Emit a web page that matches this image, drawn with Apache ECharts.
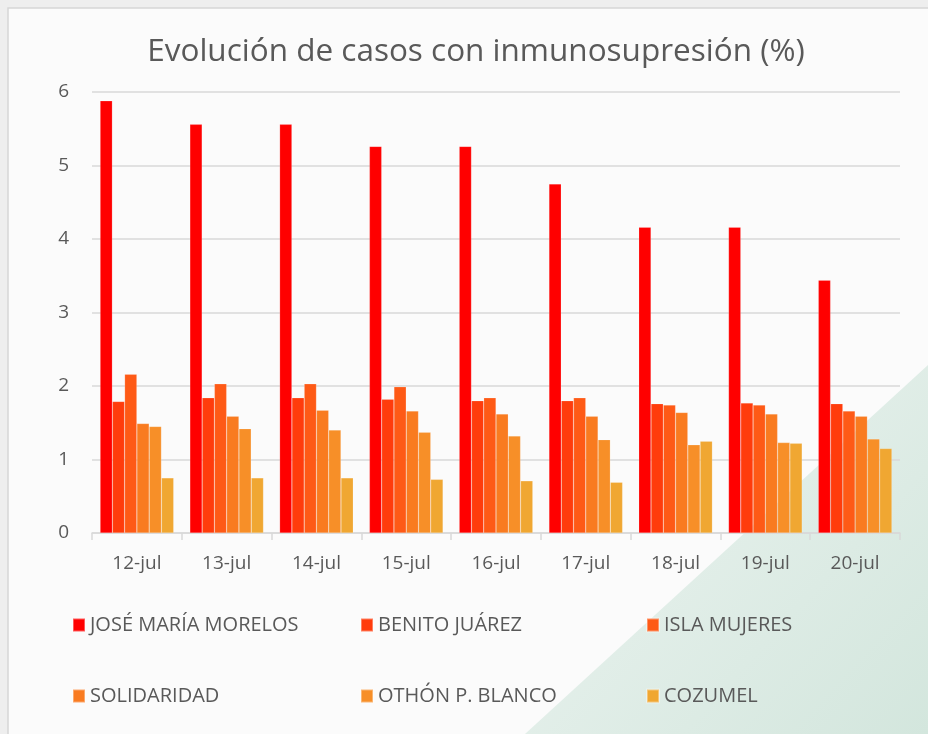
<!DOCTYPE html>
<html lang="es">
<head>
    <meta charset="UTF-8">
    <title>Evolución de casos con inmunosupresión</title>
    <script src="https://cdn.jsdelivr.net/npm/echarts@6/dist/echarts.min.js"></script>
    <style type="text/css">
        *{ padding: 0; margin: 0; border: 0; }
        #chart{ width: 928px; height: 734px; }
    </style>
</head>
<body>
<div id="chart"></div>
<script>
    // datos
    var dias = ['12-jul', '13-jul', '14-jul', '15-jul', '16-jul', '17-jul', '18-jul', '19-jul', '20-jul'];
    var municipios = ['JOSÉ MARÍA MORELOS', 'BENITO JUÁREZ', 'ISLA MUJERES', 'SOLIDARIDAD', 'OTHÓN P. BLANCO', 'COZUMEL'];
    var joseMariaMorelos = [5.88, 5.56, 5.56, 5.26, 5.26, 4.75, 4.16, 4.16, 3.44];
    var benitoJuarez     = [1.79, 1.84, 1.84, 1.82, 1.80, 1.80, 1.76, 1.77, 1.76];
    var islaMujeres      = [2.16, 2.03, 2.03, 1.99, 1.84, 1.84, 1.74, 1.74, 1.66];
    var solidaridad      = [1.49, 1.59, 1.67, 1.66, 1.62, 1.59, 1.64, 1.62, 1.59];
    var othonPBlanco     = [1.45, 1.42, 1.40, 1.37, 1.32, 1.27, 1.20, 1.23, 1.28];
    var cozumel          = [0.75, 0.75, 0.75, 0.73, 0.71, 0.69, 1.25, 1.22, 1.15];
    var yTicks = [0, 1, 2, 3, 4, 5, 6];

    var valores = [joseMariaMorelos, benitoJuarez, islaMujeres, solidaridad, othonPBlanco, cozumel];
    var colores = ['#ff0000', '#ff3c0c', '#fe5a16', '#f97b20', '#f78f28', '#f0a732'];
    var fuente = 'Open Sans, sans-serif';

    var series = municipios.map(function (n, i) {
        return {
            name: n,
            type: 'bar',
            data: valores[i],
            barGap: '0%',
            barCategoryGap: '18%',
            itemStyle: { color: colores[i], borderColor: 'rgba(255,255,255,0.35)', borderWidth: 0.5 }
        };
    });

    // leyenda: 3 columnas x 2 filas
    var posLeyenda = [[67, 610], [355, 610], [641, 610], [67, 681], [355, 681], [641, 681]];
    var leyendas = municipios.map(function (n, i) {
        return {
            data: [n],
            left: posLeyenda[i][0],
            top: posLeyenda[i][1],
            itemWidth: 12,
            itemHeight: 13,
            itemGap: 6,
            icon: 'rect',
            textStyle: { color: '#595959', fontSize: 20, fontFamily: fuente }
        };
    });

    var chart = echarts.init(document.getElementById('chart'));
    chart.setOption({
        backgroundColor: '#eeeeee',
        animation: false,
        graphic: [
            { type: 'rect', z: -10, shape: { x: 8, y: 8, width: 925, height: 730 },
              style: { fill: '#fbfbfb', stroke: '#d6d6d6', lineWidth: 1.5 } },
            { type: 'polygon', z: -9, shape: { points: [[525, 734], [928, 365], [928, 734]] },
              style: { fill: new echarts.graphic.LinearGradient(0, 0, 1, 1, [
                  { offset: 0, color: '#eef5f2' }, { offset: 1, color: '#d3e6dd' }]) } }
        ],
        title: {
            text: 'Evolución de casos con inmunosupresión (%)',
            left: 471,
            top: 31,
            textAlign: 'center',
            textStyle: { color: '#595959', fontSize: 31.5, fontWeight: 'normal', fontFamily: fuente }
        },
        legend: leyendas,
        grid: { left: 92, right: 28, top: 92, bottom: 201 },
        xAxis: {
            type: 'category',
            data: dias,
            axisLine: { lineStyle: { color: '#d9d9d9', width: 1.5 } },
            axisTick: { show: true, length: 7, lineStyle: { color: '#d9d9d9', width: 1.5 } },
            axisLabel: { color: '#595959', fontSize: 19, margin: 21, fontFamily: fuente }
        },
        yAxis: {
            type: 'value',
            min: yTicks[0],
            max: yTicks[yTicks.length - 1],
            interval: 1,
            axisLine: { show: false },
            axisTick: { show: false },
            splitLine: { lineStyle: { color: '#d9d9d9', width: 1.5 } },
            axisLabel: { color: '#595959', fontSize: 19, margin: 23, fontFamily: fuente }
        },
        series: series
    });
</script>
</body>
</html>
